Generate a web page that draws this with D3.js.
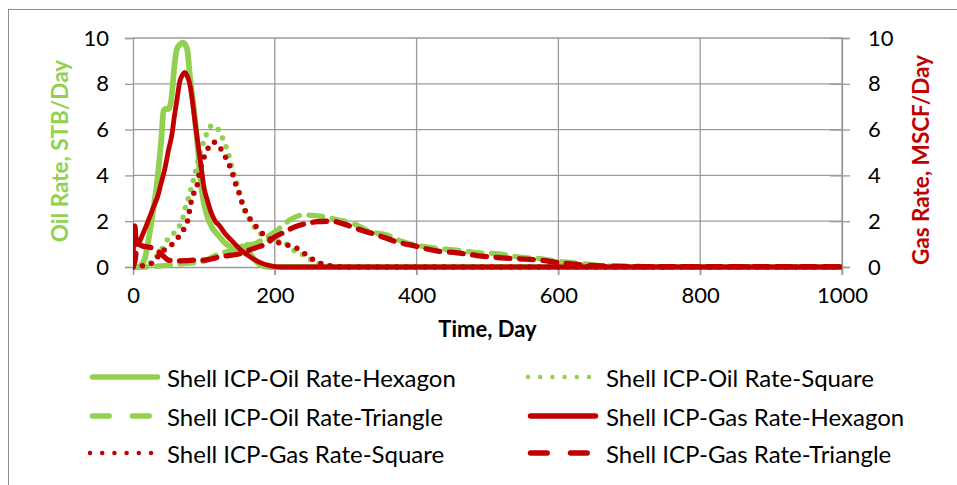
<!DOCTYPE html>
<html><head><meta charset="utf-8">
<script src="https://cdn.jsdelivr.net/npm/d3@7/dist/d3.min.js"></script>
<style>body{margin:0;background:#fff}svg{display:block}</style>
</head><body><svg id="c" width="957" height="485"></svg>
<script>
// ---- data ----
const xTicks = [0, 200, 400, 600, 800, 1000];
const yTicks = [0, 2, 4, 6, 8, 10];

const oilHexDays = [0, 8, 12, 17, 22, 27, 32, 37, 40, 43, 46, 50, 54, 57, 60, 63, 66, 70, 74, 77, 80, 84, 88, 92, 96, 100, 106, 112, 120, 128, 136, 143, 150, 156, 162, 168, 175, 182, 192, 1000];
const oilHexRate = [0, 0, 0.1, 0.4, 1.2, 2.2, 3.2, 4.6, 5.6, 6.8, 6.9, 6.9, 7.3, 8.3, 9.2, 9.6, 9.7, 9.8, 9.7, 9.4, 8.4, 7.4, 6.3, 5.0, 3.6, 2.8, 2.1, 1.7, 1.4, 1.1, 0.9, 0.75, 0.85, 0.9, 0.7, 0.45, 0.2, 0.06, 0, 0];

const oilSqDays = [0, 18, 28, 38, 49, 57, 64, 70, 74, 80, 86, 90, 95, 100, 105, 110, 116, 122, 128, 134, 140, 146, 152, 158, 165, 172, 180, 189, 200, 210, 221, 230, 243, 252, 262, 275, 290, 1000];
const oilSqRate = [0, 0, 0.3, 0.65, 1.2, 1.45, 1.7, 2.1, 2.6, 3.2, 3.9, 4.4, 5.0, 5.5, 5.9, 6.15, 6.15, 5.9, 5.5, 5.0, 4.3, 3.7, 3.0, 2.4, 2.05, 1.7, 1.45, 1.25, 1.15, 1.1, 0.9, 0.65, 0.5, 0.3, 0.15, 0.05, 0, 0];

const oilTriDays = [0, 20, 40, 55, 70, 94, 116, 135, 155, 170, 183, 203, 221, 240, 268, 290, 310, 334, 358, 381, 400, 433, 452, 494, 513, 550, 570, 607, 626, 660, 700, 1000];
const oilTriRate = [0, 0, 0.05, 0.1, 0.15, 0.2, 0.5, 0.7, 0.95, 1.0, 1.2, 1.6, 2.05, 2.27, 2.2, 2.05, 1.9, 1.55, 1.4, 1.1, 0.95, 0.8, 0.75, 0.6, 0.58, 0.42, 0.38, 0.22, 0.18, 0.06, 0.02, 0.02];

const gasHexDays = [0, 2, 3, 5, 8, 12, 16, 20, 25, 30, 35, 40, 45, 50, 55, 58, 62, 66, 70, 73, 77, 80, 84, 88, 92, 96, 100, 105, 110, 116, 122, 130, 141, 150, 160, 170, 179, 190, 200, 210, 1000];
const gasHexRate = [0, 1.8, 1.8, 1.0, 1.05, 1.3, 1.6, 1.9, 2.3, 2.7, 3.1, 3.7, 4.3, 5.1, 5.8, 6.5, 7.3, 8.1, 8.4, 8.5, 8.3, 8.0, 7.2, 6.2, 5.3, 4.4, 3.5, 2.9, 2.4, 2.0, 1.8, 1.45, 1.1, 0.8, 0.55, 0.35, 0.2, 0.08, 0.02, 0, 0];

const gasSqDays = [0, 30, 36, 47, 59, 69, 76, 80, 83, 90, 93, 97, 103, 108, 113, 118, 123, 132, 139, 145, 150, 155, 163, 172, 183, 195, 212, 231, 245, 255, 265, 280, 300, 1000];
const gasSqRate = [0, 0.2, 0.5, 0.82, 1.1, 1.54, 1.9, 2.5, 3.0, 3.5, 4.0, 4.5, 5.0, 5.3, 5.45, 5.4, 5.2, 4.7, 4.2, 3.6, 3.2, 2.7, 2.2, 1.83, 1.45, 1.2, 1.0, 0.82, 0.52, 0.3, 0.15, 0.05, 0, 0];

const gasTriDays = [0, 3, 6, 15, 25, 35, 42, 50, 60, 75, 90, 100, 110, 123, 135, 153, 165, 179, 190, 198, 212, 228, 245, 260, 280, 300, 318, 344, 372, 400, 428, 457, 485, 520, 574, 598, 630, 680, 720, 1000];
const gasTriRate = [0, 0.3, 1.0, 0.9, 0.85, 0.7, 0.5, 0.3, 0.27, 0.28, 0.3, 0.3, 0.35, 0.45, 0.5, 0.6, 0.75, 0.9, 1.05, 1.27, 1.5, 1.75, 1.9, 1.98, 2.0, 1.85, 1.65, 1.4, 1.1, 0.9, 0.7, 0.62, 0.5, 0.4, 0.3, 0.2, 0.1, 0.04, 0.02, 0.02];

const seriesNames = ["Shell ICP-Oil Rate-Hexagon", "Shell ICP-Oil Rate-Square", "Shell ICP-Oil Rate-Triangle",
                     "Shell ICP-Gas Rate-Hexagon", "Shell ICP-Gas Rate-Square", "Shell ICP-Gas Rate-Triangle"];

// ---- styles ----
const GREEN = "#92D050", RED = "#C00000", GRID = "#9a9a9a";
const FONT = "Lato, 'Open Sans', sans-serif";
const styles = {
  solid:  {dash: null, w: 4.8},
  dotted: {dash: "0,9.5", w: 5.5},
  dashed: {dash: "14,9.5", w: 5.3}
};
const series = [
  {name: seriesNames[0], days: oilHexDays, rate: oilHexRate, color: GREEN, kind: "solid", w: 5.8, axis: "L"},
  {name: seriesNames[1], days: oilSqDays, rate: oilSqRate, color: GREEN, kind: "dotted", axis: "L"},
  {name: seriesNames[2], days: oilTriDays, rate: oilTriRate, color: GREEN, kind: "dashed", axis: "L"},
  {name: seriesNames[3], days: gasHexDays, rate: gasHexRate, color: RED, kind: "solid", axis: "R"},
  {name: seriesNames[4], days: gasSqDays, rate: gasSqRate, color: RED, kind: "dotted", axis: "R"},
  {name: seriesNames[5], days: gasTriDays, rate: gasTriRate, color: RED, kind: "dashed", axis: "R"}
];

const svg = d3.select("#c");
const plot = {l: 133, r: 842, t: 38, b: 267};

svg.append("rect").attr("x", 8.5).attr("y", 9.5).attr("width", 960).attr("height", 500)
  .attr("fill", "#fff").attr("stroke", "#8c8c8c").attr("stroke-width", 1);

const x = d3.scaleLinear().domain([0, 1000]).range([plot.l, plot.r]);
const yL = d3.scaleLinear().domain([0, 10]).range([plot.b, plot.t]);
const yR = d3.scaleLinear().domain([0, 10]).range([plot.b, plot.t]);

// gridlines
const g = svg.append("g");
g.selectAll("line.hg").data(yTicks.filter(d => d > 0)).join("line")
  .attr("x1", plot.l).attr("x2", plot.r).attr("y1", d => yL(d)).attr("y2", d => yL(d))
  .attr("stroke", GRID).attr("stroke-width", 1.3);
g.selectAll("line.vg").data(xTicks.filter(d => d > 0)).join("line")
  .attr("x1", d => x(d)).attr("x2", d => x(d)).attr("y1", plot.t).attr("y2", plot.b + 8)
  .attr("stroke", GRID).attr("stroke-width", 1.3);

// axes
const axL = d3.axisLeft(yL).tickValues(yTicks).tickSize(8).tickPadding(16).tickFormat(d3.format("d"));
const axR = d3.axisRight(yR).tickValues(yTicks).tickSize(8).tickPadding(18).tickFormat(d3.format("d"));
const axB = d3.axisBottom(x).tickValues(xTicks).tickSize(8).tickPadding(12).tickFormat(d3.format("d"));
function styleAxis(sel) {
  sel.select(".domain").attr("stroke", GRID).attr("stroke-width", 1.3);
  sel.selectAll(".tick line").attr("stroke", GRID).attr("stroke-width", 1.3);
  sel.selectAll(".tick text").attr("font-family", FONT).attr("font-size", 22).attr("fill", "#000");
}
svg.append("g").attr("transform", `translate(${plot.l},0)`).call(axL).call(styleAxis);
const gr = svg.append("g").attr("transform", `translate(${plot.r},0)`).call(axR).call(styleAxis);
gr.selectAll(".tick line").attr("x1", -12).attr("x2", 8);
svg.append("g").attr("transform", `translate(0,${plot.b})`).call(axB).call(styleAxis);

// series
svg.append("clipPath").attr("id", "pc").append("rect")
  .attr("x", plot.l).attr("y", plot.t - 10).attr("width", plot.r - plot.l).attr("height", plot.b - plot.t + 14);
const lines = svg.append("g").attr("clip-path", "url(#pc)");
series.forEach(s => {
  const ys = s.axis === "L" ? yL : yR;
  const pts = s.days.map((d, i) => [d, s.rate[i]]);
  const line = d3.line().x(p => x(p[0])).y(p => ys(p[1])).curve(d3.curveMonotoneX);
  const st = styles[s.kind];
  lines.append("path").attr("d", line(pts)).attr("fill", "none")
    .attr("stroke", s.color).attr("stroke-width", s.w || st.w)
    .attr("stroke-linecap", "round").attr("stroke-linejoin", "round")
    .attr("stroke-dasharray", st.dash);
});

// axis titles
svg.append("text").attr("transform", "translate(68,151) rotate(-90)").attr("text-anchor", "middle")
  .attr("font-family", FONT).attr("font-weight", "bold").attr("font-size", 22.5).attr("fill", GREEN)
  .text("Oil Rate, STB/Day");
svg.append("text").attr("transform", "translate(929,160) rotate(-90)").attr("text-anchor", "middle")
  .attr("font-family", FONT).attr("font-weight", "bold").attr("font-size", 22.5).attr("fill", RED)
  .text("Gas Rate, MSCF/Day");
svg.append("text").attr("x", (plot.l + plot.r) / 2).attr("y", 337).attr("text-anchor", "middle")
  .attr("font-family", FONT).attr("font-weight", "bold").attr("font-size", 22).attr("fill", "#000")
  .text("Time, Day");

// legend
const legStyles = {solid: null, dotted: "0,12.2", dashed: "16.7,23.3"};
series.forEach((s, k) => {
  const col = k % 2, row = Math.floor(k / 2);
  const lx = col === 0 ? 92.5 : 530.5;
  const ly = [377, 416, 453][row];
  const lg = svg.append("g");
  lg.append("line").attr("x1", s.kind === "dotted" ? lx - 2.5 : lx).attr("x2", lx + 65).attr("y1", ly).attr("y2", ly)
    .attr("stroke", s.color).attr("stroke-width", s.kind === "dotted" ? 4.5 : 5.5)
    .attr("stroke-linecap", "round").attr("stroke-dasharray", legStyles[s.kind]);
  lg.append("text").attr("x", col === 0 ? 167 : 606).attr("y", ly + 10)
    .attr("font-family", FONT).attr("font-size", 24).attr("fill", "#000").text(s.name);
});
</script></body></html>
